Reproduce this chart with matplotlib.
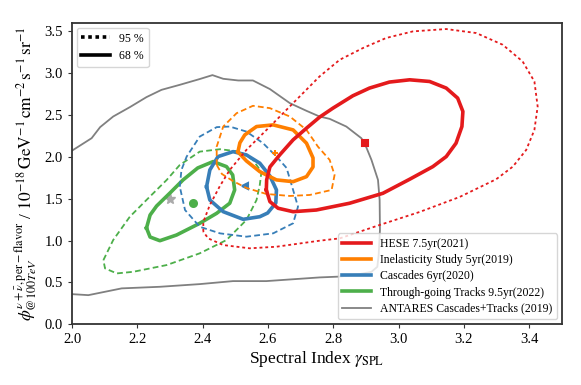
import numpy as np
import matplotlib.pyplot as plt
from matplotlib.lines import Line2D

plt.rcParams['font.family'] = 'Liberation Serif'
plt.rcParams['mathtext.fontset'] = 'stix'

# HESE 7.5yr (2021)
hese68_x = [2.595, 2.596, 2.606, 2.636, 2.677, 2.719, 2.758, 2.799, 2.860, 2.911, 2.972, 3.034, 3.095,
            3.146, 3.181, 3.197, 3.194, 3.176, 3.146, 3.105, 3.034, 2.952, 2.850, 2.748, 2.677, 2.631, 2.606]
hese68_y = [1.605, 1.725, 1.880, 2.024, 2.204, 2.347, 2.475, 2.583, 2.731, 2.823, 2.895, 2.922, 2.902,
            2.823, 2.703, 2.543, 2.363, 2.164, 2.004, 1.884, 1.733, 1.565, 1.446, 1.365, 1.345, 1.386, 1.465]
hese95_x = [2.402, 2.402, 2.422, 2.453, 2.483, 2.534, 2.606, 2.677, 2.758, 2.820, 2.891, 2.962, 3.044,
            3.146, 3.238, 3.319, 3.380, 3.416, 3.426, 3.416, 3.391, 3.350, 3.299, 3.187, 3.064, 2.942,
            2.820, 2.758, 2.626, 2.544, 2.463, 2.417]
hese95_y = [1.105, 1.222, 1.425, 1.653, 1.844, 2.084, 2.363, 2.643, 2.962, 3.162, 3.302, 3.422, 3.501,
            3.529, 3.481, 3.341, 3.141, 2.902, 2.602, 2.323, 2.084, 1.884, 1.733, 1.521, 1.341, 1.186,
            1.026, 0.998, 0.926, 0.907, 0.946, 1.026]
hese_best = (2.896, 2.17)

# Inelasticity Study 5yr (2019)
inel68_x = [2.508, 2.514, 2.529, 2.565, 2.616, 2.677, 2.718, 2.738, 2.738, 2.718, 2.677, 2.626, 2.575, 2.534]
inel68_y = [2.060, 2.168, 2.263, 2.363, 2.383, 2.323, 2.164, 1.988, 1.880, 1.764, 1.704, 1.725, 1.824, 1.952]
inel95_x = [2.443, 2.443, 2.463, 2.504, 2.554, 2.606, 2.667, 2.718, 2.753, 2.789, 2.804, 2.795, 2.728,
            2.667, 2.595, 2.534, 2.492, 2.459]
inel95_y = [1.904, 2.123, 2.363, 2.523, 2.611, 2.583, 2.483, 2.323, 2.123, 1.964, 1.784, 1.605, 1.545,
            1.533, 1.557, 1.629, 1.713, 1.796]
inel_best = (2.621, 2.044)

# Cascades 6yr (2020)
casc68_x = [2.412, 2.422, 2.447, 2.493, 2.534, 2.575, 2.606, 2.626, 2.624, 2.599, 2.575, 2.524, 2.463, 2.422]
casc68_y = [1.644, 1.844, 2.004, 2.063, 2.024, 1.925, 1.772, 1.605, 1.449, 1.329, 1.285, 1.254, 1.345, 1.485]
casc95_x = [2.330, 2.335, 2.351, 2.391, 2.443, 2.483, 2.534, 2.585, 2.626, 2.657, 2.677, 2.692, 2.677,
            2.616, 2.534, 2.453, 2.391, 2.346]
casc95_y = [1.644, 1.844, 2.004, 2.243, 2.356, 2.363, 2.303, 2.164, 2.004, 1.868, 1.605, 1.405, 1.206,
            1.086, 1.046, 1.086, 1.165, 1.365]
casc_best = (2.529, 1.653)

# Through-going Tracks 9.5yr (2022)
trk68_x = [2.228, 2.239, 2.259, 2.300, 2.340, 2.385, 2.432, 2.473, 2.492, 2.498, 2.483, 2.443, 2.391,
           2.320, 2.269, 2.239]
trk68_y = [1.150, 1.305, 1.413, 1.569, 1.725, 1.868, 1.944, 1.884, 1.784, 1.605, 1.446, 1.326, 1.206,
           1.066, 0.998, 1.042]
trk95_x = [2.096, 2.126, 2.177, 2.228, 2.290, 2.330, 2.391, 2.453, 2.514, 2.554, 2.580, 2.575, 2.565,
           2.534, 2.473, 2.391, 2.290, 2.187, 2.137, 2.101]
trk95_y = [0.766, 1.006, 1.285, 1.485, 1.725, 1.904, 2.063, 2.092, 2.063, 1.964, 1.820, 1.665, 1.485,
           1.246, 1.006, 0.847, 0.707, 0.626, 0.607, 0.667]
trk_best = (2.371, 1.446)

# ANTARES Cascades+Tracks (2019)
ant_x = [2.000, 2.060, 2.086, 2.126, 2.177, 2.228, 2.274, 2.330, 2.391, 2.430, 2.463, 2.509, 2.554,
         2.606, 2.667, 2.718, 2.758, 2.789, 2.840, 2.886, 2.896, 2.917, 2.937, 2.942, 2.943, 2.939,
         2.935, 2.917, 2.881, 2.820, 2.758, 2.595, 2.493, 2.391, 2.269, 2.152, 2.050, 2.000]
ant_y = [2.075, 2.224, 2.356, 2.483, 2.595, 2.715, 2.802, 2.862, 2.931, 2.978, 2.934, 2.914, 2.914,
         2.811, 2.643, 2.551, 2.483, 2.455, 2.363, 2.224, 2.164, 1.964, 1.725, 1.485, 1.126, 0.826,
         0.686, 0.626, 0.599, 0.569, 0.559, 0.515, 0.515, 0.479, 0.447, 0.428, 0.347, 0.359]
ant_best = (2.300, 1.493)

red, orange, blue, green, gray = '#e41a1c', '#ff7f00', '#377eb8', '#4daf4a', '#808080'

def closed(x, y):
    return list(x) + [x[0]], list(y) + [y[0]]

fig, ax = plt.subplots(figsize=(5.81, 3.85), dpi=100)
fig.subplots_adjust(left=0.124, right=0.967, bottom=0.158, top=0.940)

ax.plot(ant_x, ant_y, color=gray, lw=1.3)
ax.plot(*ant_best, marker='*', color='#aaaaaa', ms=8, ls='none')

sets = [
    (trk68_x, trk68_y, trk95_x, trk95_y, green, trk_best, 'o'),
    (casc68_x, casc68_y, casc95_x, casc95_y, blue, casc_best, '<'),
    (inel68_x, inel68_y, inel95_x, inel95_y, orange, inel_best, '+'),
    (hese68_x, hese68_y, hese95_x, hese95_y, red, hese_best, 's'),
]
for x68, y68, x95, y95, c, best, m in sets:
    dash = (0, (1.6, 1.6)) if c == red else (0, (3.2, 1.8))
    ax.plot(*closed(x95, y95), color=c, lw=1.3, ls=dash)
    ax.plot(*closed(x68, y68), color=c, lw=2.6)
    ax.plot(*best, marker=m, color=c, ms=5, mew=1.5, ls='none')

ax.set_xlim(2.0, 3.5)
ax.set_ylim(0, 3.6)
ax.set_xticks(np.arange(2.0, 3.41, 0.2))
ax.set_yticks(np.arange(0, 3.51, 0.5))
ax.tick_params(labelsize=10.5, length=3, color='#333333')
for s in ax.spines.values():
    s.set_linewidth(1.3)
    s.set_color('#333333')

ax.set_xlabel(r'Spectral Index $\gamma_{\mathrm{SPL}}$', fontsize=12.5, labelpad=2)
ax.set_ylabel(r'$\phi^{\nu+\bar{\nu},\mathrm{per-flavor}}_{@100TeV}$ / $10^{-18}\,\mathrm{GeV^{-1}\,cm^{-2}\,s^{-1}\,sr^{-1}}$',
              fontsize=12.5, labelpad=4)

h1 = [Line2D([], [], color='k', lw=2.6, ls=(0, (1, 1))), Line2D([], [], color='k', lw=2.6)]
leg1 = ax.legend(h1, ['95 %', '68 %'], loc='upper left', fontsize=8.5, handlelength=2.4,
                 framealpha=0.8, borderaxespad=0.4)
ax.add_artist(leg1)

h2 = [Line2D([], [], color=red, lw=2.6), Line2D([], [], color=orange, lw=2.6),
      Line2D([], [], color=blue, lw=2.6), Line2D([], [], color=green, lw=2.6),
      Line2D([], [], color=gray, lw=1.3)]
labels2 = ['HESE 7.5yr(2021)', 'Inelasticity Study 5yr(2019)', 'Cascades 6yr(2020)',
           'Through-going Tracks 9.5yr(2022)', 'ANTARES Cascades+Tracks (2019)']
ax.legend(h2, labels2, loc='lower right', fontsize=8.5, handlelength=2.4, framealpha=0.8,
          labelspacing=0.35, borderaxespad=0.4)

fig.savefig('out.png', dpi=100)
